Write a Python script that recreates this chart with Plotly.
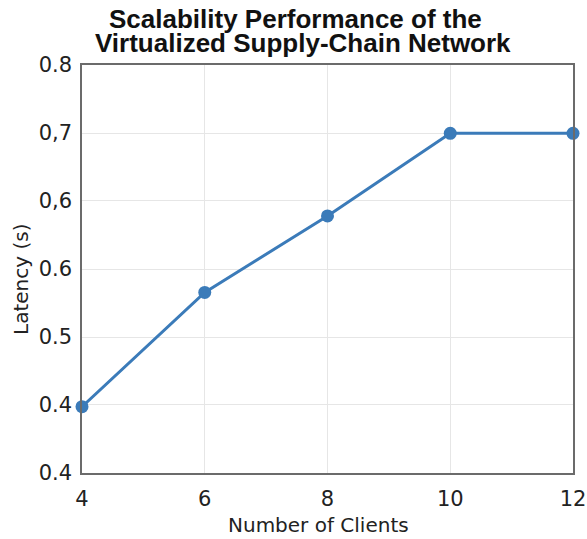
import plotly.graph_objects as go

clients = [4, 6, 8, 10, 12]
latency = [0.465, 0.577, 0.652, 0.733, 0.733]

y_tick_vals = [0.8, 0.7333, 0.6667, 0.6, 0.5333, 0.4667, 0.4]
y_tick_text = ["0.8", "0,7", "0,6", "0.6", "0.5", "0.4", "0.4"]
x_tick_vals = [4, 6, 8, 10, 12]

title_lines = ["Scalability Performance of the", "Virtualized Supply-Chain Network"]
x_title = "Number of Clients"
y_title = "Latency (s)"

W, H = 587, 539
L, R, T, B = 82, 14, 65, 66
plot_w, plot_h = W - L - R, H - T - B


def px_x(px):
    return (px - L) / plot_w


def px_y(py):
    return (H - B - py) / plot_h


fig = go.Figure()
fig.add_trace(go.Scatter(
    x=clients, y=latency, mode="lines+markers",
    line=dict(color="#3b7bb9", width=3),
    marker=dict(color="#3b7bb9", size=13),
    cliponaxis=False, showlegend=False,
))

title_font = dict(family="Liberation Sans", size=26, color="#111111", weight="bold")
for line, cx, cy in zip(title_lines, [295, 302.5], [19, 43]):
    fig.add_annotation(
        text=line, xref="paper", yref="paper", x=px_x(cx), y=px_y(cy),
        xanchor="center", yanchor="middle", showarrow=False, font=title_font,
    )

axis_title_font = dict(family="DejaVu Sans", size=20, color="#222222")
fig.add_annotation(
    text=x_title, xref="paper", yref="paper", x=px_x(318), y=px_y(525),
    xanchor="center", yanchor="middle", showarrow=False, font=axis_title_font,
)
fig.add_annotation(
    text=y_title, xref="paper", yref="paper", x=px_x(21), y=px_y(280),
    xanchor="center", yanchor="middle", showarrow=False, textangle=-90,
    font=axis_title_font,
)

fig.update_layout(
    width=W, height=H,
    margin=dict(l=L, r=R, t=T, b=B),
    paper_bgcolor="white", plot_bgcolor="white",
    font=dict(family="DejaVu Sans", color="#222222"),
)
fig.update_xaxes(
    range=[4, 12], tickvals=x_tick_vals,
    showgrid=True, gridcolor="#e6e6e6", gridwidth=1,
    showline=True, linecolor="#6b6b6b", linewidth=1.5, mirror=True,
    ticks="", tickfont=dict(size=21, color="#222222"), ticklabelstandoff=6,
    zeroline=False, automargin=False,
)
fig.update_yaxes(
    range=[0.4, 0.8], tickvals=y_tick_vals, ticktext=y_tick_text,
    showgrid=True, gridcolor="#e6e6e6", gridwidth=1,
    showline=True, linecolor="#6b6b6b", linewidth=1.5, mirror=True,
    ticks="", tickfont=dict(size=21, color="#222222"), ticklabelstandoff=4,
    zeroline=False, automargin=False,
)

fig.write_html("out.html", config={"displayModeBar": False},
               post_script="document.body.style.margin='0';")
